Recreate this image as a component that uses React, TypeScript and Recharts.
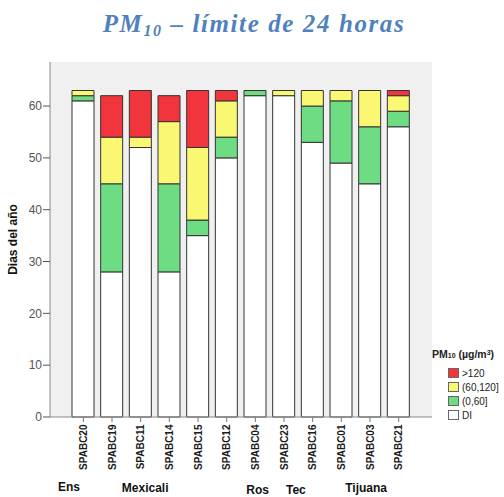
import React from 'react';
import { BarChart, Bar, XAxis, YAxis, CartesianGrid, Legend } from 'recharts';

const stations = ['SPABC20', 'SPABC19', 'SPABC11', 'SPABC14', 'SPABC15', 'SPABC12', 'SPABC04', 'SPABC23', 'SPABC16', 'SPABC01', 'SPABC03', 'SPABC21'];
const diDays = [61, 28, 52, 28, 35, 50, 62, 62, 53, 49, 45, 56];
const lowDays = [1, 17, 0, 17, 3, 4, 1, 0, 7, 12, 11, 3];
const midDays = [1, 9, 2, 12, 14, 7, 0, 1, 3, 2, 7, 3];
const highDays = [0, 8, 9, 5, 11, 2, 0, 0, 0, 0, 0, 1];

const groupNames = ['Ens', 'Mexicali', 'Ros', 'Tec', 'Tijuana'];
const groupFirst = [0, 1, 6, 7, 8];
const groupLast = [0, 4, 6, 7, 11];

const yTicks = [0, 10, 20, 30, 40, 50, 60];

const seriesKeys = ['di', 'low', 'mid', 'high'];
const seriesNames = ['DI', '(0,60]', '(60,120]', '>120'];
const seriesColors = ['#FFFFFF', '#6EDC82', '#FAF773', '#F2343C'];

const data = stations.map((s, i) => ({
  station: s,
  di: diDays[i],
  low: lowDays[i],
  mid: midDays[i],
  high: highDays[i],
}));

const groupCenters = groupFirst.map((f, i) => (f + groupLast[i]) / 2);

const FONT = '"Liberation Sans", Arial, sans-serif';

const groupStyle: Record<string, { dx: number; dy: number }> = {
  Ens: { dx: 0, dy: 0 },
  Mexicali: { dx: -2, dy: 1 },
  Ros: { dx: 1, dy: 3 },
  Tec: { dx: 8, dy: 3 },
  Tijuana: { dx: 0, dy: 1 },
};

const StationTick = (props: any) => {
  const { x, y, payload } = props;
  return (
    <text
      x={0}
      y={0}
      transform={`translate(${x + 3.5},${y + 0.5}) rotate(-90)`}
      textAnchor="end"
      fontFamily={FONT}
      fontWeight="bold"
      fontSize={10}
      fill="#1a1a1a"
    >
      {payload.value}
    </text>
  );
};

const GroupTick = (props: any) => {
  const { x, y, payload } = props;
  const idx = groupCenters.indexOf(payload.value);
  const name = groupNames[idx];
  const st = groupStyle[name] || { dx: 0, dy: 0 };
  return (
    <text
      x={x + st.dx}
      y={y + 16 + st.dy}
      textAnchor="middle"
      fontFamily={FONT}
      fontWeight="bold"
      fontSize={12}
      fill="#111"
    >
      {name}
    </text>
  );
};

const LegendContent = () => {
  const items = seriesKeys.map((k, i) => ({ name: seriesNames[i], color: seriesColors[i] })).reverse();
  return (
    <div style={{ fontFamily: FONT, color: '#222' }}>
      <div style={{ fontWeight: 'bold', fontSize: 10.5, whiteSpace: 'nowrap', lineHeight: '12px' }}>
        PM<span style={{ fontSize: 7 }}>10</span> (µg/m<sup style={{ fontSize: 7, verticalAlign: '3px', lineHeight: 0 }}>3</sup>)
      </div>
      <div style={{ marginLeft: 16, marginTop: 4 }}>
        {items.map((it) => (
          <div key={it.name} style={{ display: 'flex', alignItems: 'center', height: 14, fontSize: 10 }}>
            <span
              style={{
                display: 'inline-block',
                width: 9,
                height: 8,
                background: it.color,
                border: '1px solid #666',
                marginRight: 3,
              }}
            />
            <span>{it.name}</span>
          </div>
        ))}
      </div>
    </div>
  );
};

export default function App() {
  return (
    <div style={{ position: 'absolute', left: 0, top: 0, width: 504, height: 497, background: '#fff' }}>
      <div
        style={{
          position: 'absolute',
          left: 2,
          top: 11,
          width: 504,
          textAlign: 'center',
          fontFamily: '"Liberation Serif", "Times New Roman", serif',
          fontWeight: 'bold',
          fontStyle: 'italic',
          fontSize: 25,
          lineHeight: '25px',
          letterSpacing: 1.6,
          color: '#4F81BD',
          whiteSpace: 'nowrap',
        }}
      >
        PM<span style={{ fontSize: 16, verticalAlign: -4 }}>10</span> – límite de 24 horas
      </div>
      <BarChart
        width={504}
        height={497}
        data={data}
        margin={{ top: 62, right: 72, left: 0, bottom: 0 }}
        barSize={22}
      >
        <CartesianGrid horizontal={false} vertical={false} fill="#F0F0F0" />
        <XAxis
          dataKey="station"
          type="category"
          padding={{ left: 19, right: 19 }}
          height={50}
          interval={0}
          tickLine={{ stroke: '#777' }}
          tickSize={5}
          axisLine={{ stroke: '#888' }}
          tick={<StationTick />}
        />
        <XAxis
          xAxisId="g"
          type="number"
          domain={[-0.5, 11.5]}
          ticks={groupCenters}
          padding={{ left: 19, right: 19 }}
          height={30}
          axisLine={false}
          tickLine={false}
          interval={0}
          tick={<GroupTick />}
        />
        <XAxis xAxisId="t" orientation="top" height={0} tick={false} tickLine={false} axisLine={{ stroke: '#888' }} />
        <YAxis
          type="number"
          domain={[0, 68.5]}
          ticks={yTicks}
          width={50}
          tickSize={7}
          tickMargin={1}
          tickLine={{ stroke: '#555' }}
          axisLine={{ stroke: '#888' }}
          tick={{ fontFamily: FONT, fontSize: 12, fill: '#555' }}
          label={{
            content: (p: any) => {
              const vb = p.viewBox || {};
              const cx = vb.x + 17;
              const cy = vb.y + vb.height / 2;
              return (
                <text
                  transform={`translate(${cx},${cy}) rotate(-90)`}
                  textAnchor="middle"
                  fontFamily={FONT}
                  fontWeight="bold"
                  fontSize={12}
                  fill="#111"
                >
                  Dias del año
                </text>
              );
            },
          }}
        />
        <YAxis yAxisId="r" orientation="right" width={0} tick={false} tickLine={false} axisLine={{ stroke: '#888' }} />
        {seriesKeys.map((k, i) => (
          <Bar
            key={k}
            dataKey={k}
            name={seriesNames[i]}
            stackId="a"
            fill={seriesColors[i]}
            stroke="#333"
            strokeWidth={1}
            isAnimationActive={false}
          />
        ))}
        <Legend
          layout="horizontal"
          verticalAlign="middle"
          align="center"
          content={<LegendContent />}
          wrapperStyle={{ left: 432, top: 348, width: 72, right: 'auto', bottom: 'auto' }}
        />
      </BarChart>
    </div>
  );
}
